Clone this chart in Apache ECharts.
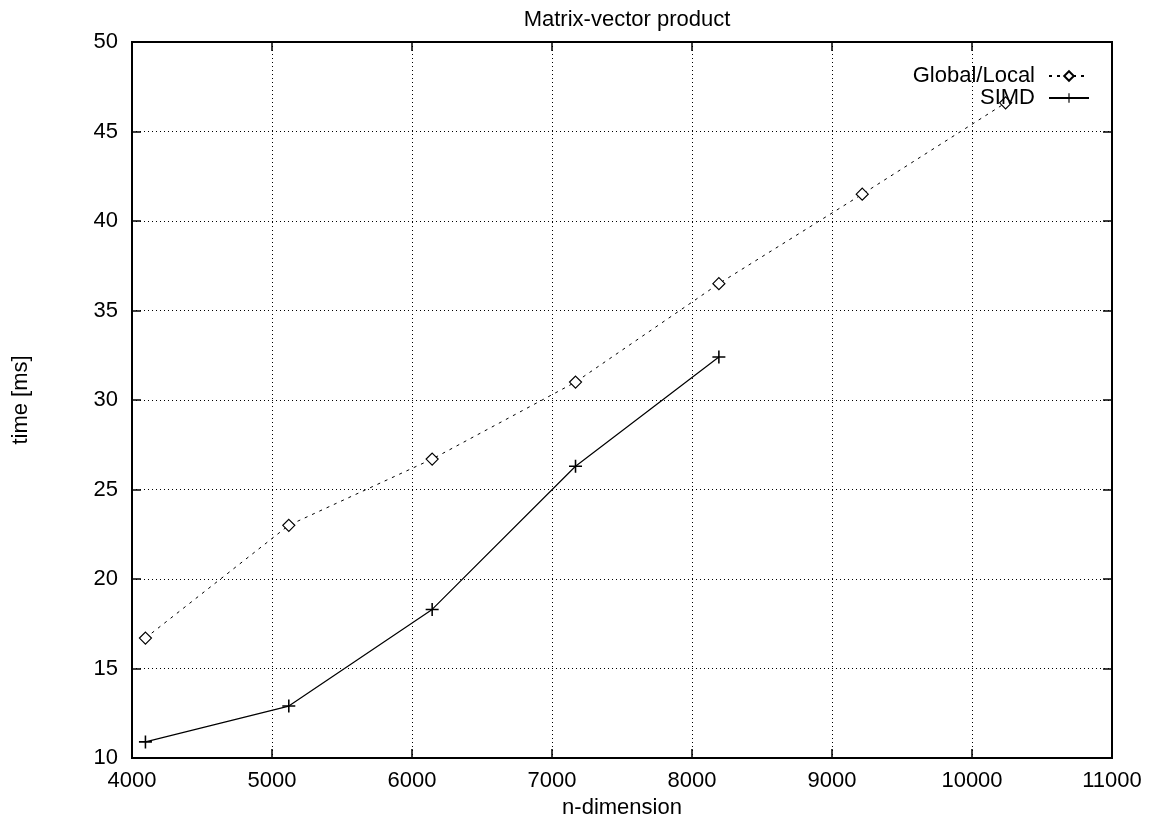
<!DOCTYPE html>
<html>
<head>
<meta charset="utf-8">
<script src="https://cdn.jsdelivr.net/npm/echarts@6/dist/echarts.min.js"></script>
<style>
  html, body { margin: 0; padding: 0; background: #fff; }
  #chart { width: 1152px; height: 814px; }
</style>
</head>
<body>
<div id="chart"></div>
<script>
// n-dimension values
const dims = [4096, 5120, 6144, 7168, 8192, 9216, 10240]
// time [ms] per series
const globalLocal = [16.7, 23.0, 26.7, 31.0, 36.5, 41.5, 46.6]
const simd = [10.9, 12.9, 18.3, 26.3, 32.4]

const font = 'Liberation Sans, Arial, sans-serif'
const fs = 22
const plusIcon = 'path://M4.4,0h1.2v10h-1.2z M0,4.4h10v1.2h-10z'

const chart = echarts.init(document.getElementById('chart'))

const ticks = { show: true, inside: true, length: 9, lineStyle: { color: '#000', width: 1.5 } }
const gridDots = { show: true, lineStyle: { color: '#000', type: [1, 3], width: 1 } }
const plain = v => String(v)

chart.setOption({
  animation: false,
  backgroundColor: '#fff',
  title: {
    text: 'Matrix-vector product',
    left: 622,
    top: 4,
    textAlign: 'center',
    textStyle: { fontFamily: font, fontSize: fs, fontWeight: 'normal', color: '#000' },
  },
  legend: {
    orient: 'vertical',
    right: 57,
    top: 60,
    align: 'right',
    itemWidth: 40,
    itemHeight: 12,
    itemGap: 0,
    textStyle: { fontFamily: font, fontSize: fs, color: '#000', padding: [0, 9, 0, 0] },
    data: ['Global/Local', 'SIMD'],
  },
  grid: {
    left: 132, right: 40, top: 42, bottom: 56,
    outerBoundsMode: 'none',
    show: true, borderColor: '#000', borderWidth: 2,
  },
  xAxis: [
    {
      type: 'value',
      min: 4000,
      max: 11000,
      interval: 1000,
      name: 'n-dimension',
      nameLocation: 'middle',
      nameGap: 36,
      nameTextStyle: { fontFamily: font, fontSize: fs, color: '#000' },
      axisLine: { show: true, lineStyle: { color: '#000', width: 2 } },
      axisTick: ticks,
      axisLabel: { fontFamily: font, fontSize: fs, color: '#000', margin: 12, formatter: plain },
      splitLine: gridDots,
    },
    {
      type: 'value',
      position: 'top',
      min: 4000,
      max: 11000,
      interval: 1000,
      axisLine: { show: true, lineStyle: { color: '#000', width: 2 } },
      axisTick: ticks,
      axisLabel: { show: false },
      splitLine: { show: false },
    },
  ],
  yAxis: [
    {
      type: 'value',
      min: 10,
      max: 50,
      interval: 5,
      name: 'time [ms]',
      nameLocation: 'middle',
      nameGap: 100,
      nameRotate: 90,
      nameTextStyle: { fontFamily: font, fontSize: fs, color: '#000' },
      axisLine: { show: true, lineStyle: { color: '#000', width: 2 } },
      axisTick: ticks,
      axisLabel: { fontFamily: font, fontSize: fs, color: '#000', margin: 14, formatter: plain },
      splitLine: gridDots,
    },
    {
      type: 'value',
      position: 'right',
      min: 10,
      max: 50,
      interval: 5,
      axisLine: { show: true, lineStyle: { color: '#000', width: 2 } },
      axisTick: ticks,
      axisLabel: { show: false },
      splitLine: { show: false },
    },
  ],
  series: [
    {
      name: 'Global/Local',
      type: 'line',
      data: dims.map((d, i) => [d, globalLocal[i]]),
      symbol: 'diamond',
      symbolSize: 12,
      showAllSymbol: true,
      itemStyle: { color: '#fff', borderColor: '#000', borderWidth: 1.2 },
      lineStyle: { color: '#000', width: 1, type: [3, 5] },
      z: 3,
    },
    {
      name: 'SIMD',
      type: 'line',
      data: simd.map((v, i) => [dims[i], v]),
      symbol: plusIcon,
      symbolSize: 13,
      itemStyle: { color: '#000' },
      lineStyle: { color: '#000', width: 1.2 },
      z: 4,
    },
  ],
})
</script>
</body>
</html>
